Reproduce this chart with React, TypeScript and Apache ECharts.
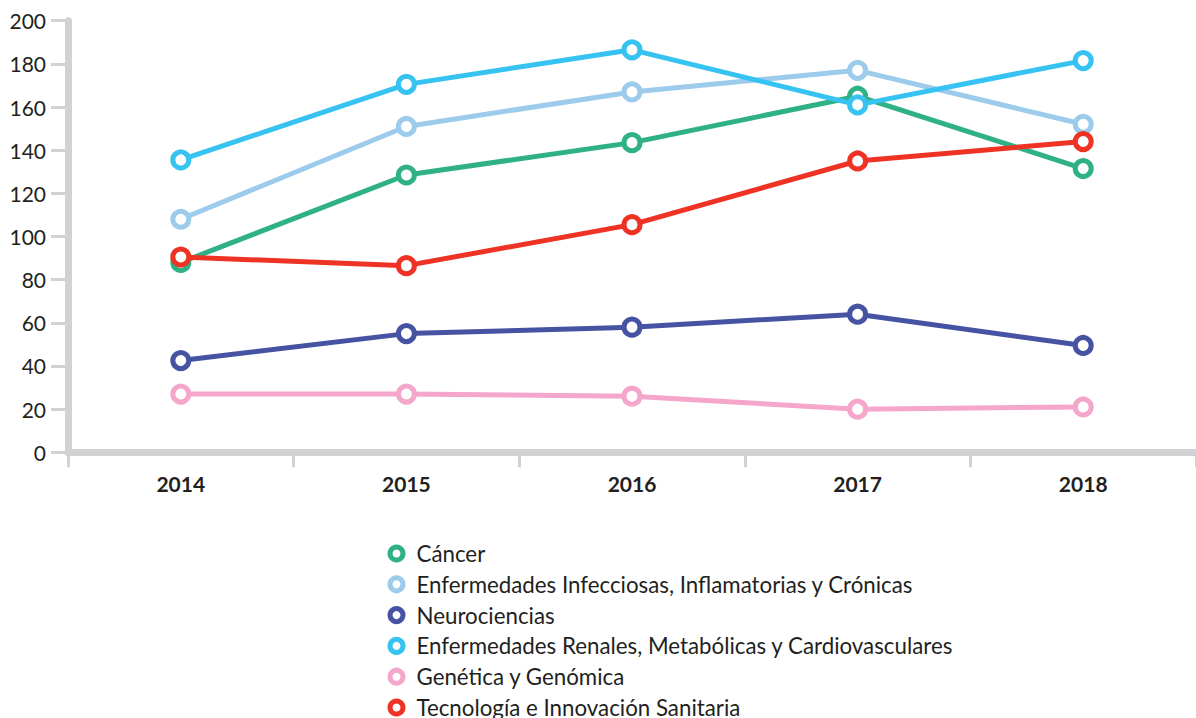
import React, { useEffect, useRef } from "react";
import * as echarts from "echarts";

const years = ["2014", "2015", "2016", "2017", "2018"];
const seriesNames = [
  "Cáncer",
  "Enfermedades Infecciosas, Inflamatorias y Crónicas",
  "Neurociencias",
  "Enfermedades Renales, Metabólicas y Cardiovasculares",
  "Genética y Genómica",
  "Tecnología e Innovación Sanitaria",
];
const cancer = [88, 128.5, 143.5, 165, 131.5];
const infecciosas = [108, 151, 167, 177, 152];
const neuro = [42.5, 55, 58, 64, 49.5];
const renales = [135.5, 170.5, 186.5, 161, 181.5];
const genetica = [27, 27, 26, 20, 21];
const tecnologia = [90.5, 86.5, 105.5, 135, 144];
const colors = ["#2fb185", "#9ccbec", "#4653a3", "#36c3f1", "#f4a6cb", "#ee3325"];
const yTicks = { min: 0, max: 200, interval: 20 };

const FONT = "Lato";

export default function App() {
  const ref = useRef<HTMLDivElement>(null);
  useEffect(() => {
    if (!ref.current) return;
    const chart = echarts.init(ref.current, undefined, { renderer: "svg" });
    const data = [cancer, infecciosas, neuro, renales, genetica, tecnologia];
    chart.setOption({
      animation: false,
      backgroundColor: "#ffffff",
      grid: { left: 68, top: 20.7, bottom: 265.7, right: -7, containLabel: false },
      legend: {
        orient: "vertical",
        left: 387.5,
        top: 542.5,
        height: 190,
        padding: 0,
        itemWidth: 13,
        itemHeight: 13,
        itemGap: 8.8,
        icon: "circle",
        textStyle: {
          fontFamily: FONT,
          fontSize: 22.3,
          color: "#231f20",
          padding: [0, 0, 0, 8.5],
        },
        data: seriesNames.map((n, i) => ({
          name: n,
          itemStyle: { color: "#ffffff", borderColor: colors[i], borderWidth: 5 },
        })),
      },
      xAxis: {
        type: "category",
        data: years,
        boundaryGap: true,
        axisLine: { lineStyle: { color: "#d1d2d4", width: 7 } },
        axisTick: { show: true, length: 15, lineStyle: { color: "#d1d2d4", width: 3 } },
        axisLabel: {
          margin: 21,
          fontFamily: FONT,
          fontSize: 21,
          fontWeight: "bold",
          color: "#231f20",
        },
        splitLine: { show: false },
      },
      yAxis: {
        type: "value",
        min: yTicks.min,
        max: yTicks.max,
        interval: yTicks.interval,
        axisLine: { show: true, lineStyle: { color: "#d1d2d4", width: 7 } },
        axisTick: { show: true, length: 17, lineStyle: { color: "#d1d2d4", width: 3 } },
        axisLabel: {
          margin: 22,
          fontFamily: FONT,
          fontSize: 21,
          color: "#231f20",
        },
        splitLine: { show: false },
      },
      series: seriesNames.map((n, i) => ({
        name: n,
        type: "line",
        data: data[i],
        symbol: "circle",
        symbolSize: 16,
        showSymbol: true,
        lineStyle: { color: colors[i], width: 5 },
        itemStyle: { color: "#ffffff", borderColor: colors[i], borderWidth: 5 },
        emphasis: { disabled: true },
      })),
    });
    return () => chart.dispose();
  }, []);
  return (
    <div
      ref={ref}
      style={{ position: "fixed", left: 0, top: 0, width: 1196, height: 718, overflow: "hidden" }}
    />
  );
}
